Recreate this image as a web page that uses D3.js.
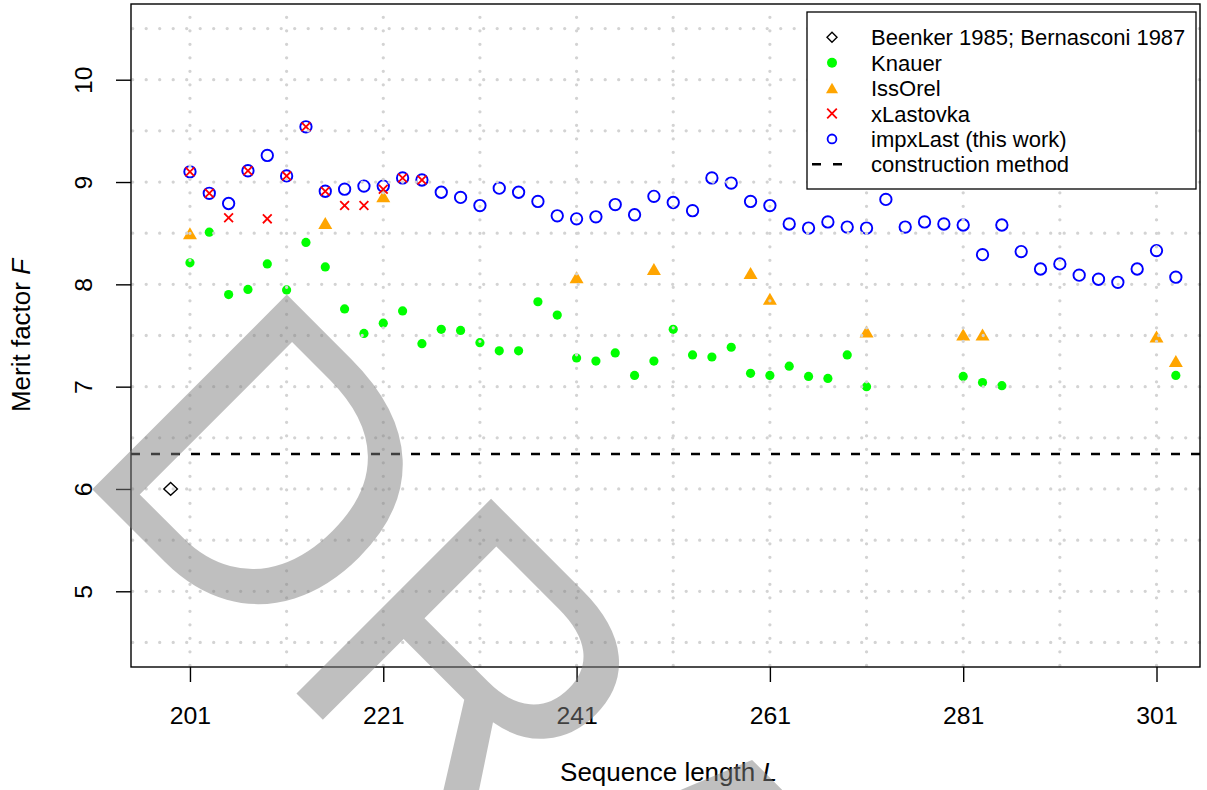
<!DOCTYPE html>
<html>
<head>
<meta charset="utf-8">
<script src="https://cdn.jsdelivr.net/npm/d3@7"></script>
<style>
  html, body { margin: 0; padding: 0; background: #fff; }
  svg { display: block; font-family: 'Liberation Sans', Arial, sans-serif; }
</style>
</head>
<body>
<svg id="chart" width="1207" height="790"></svg>
<script>
// data
const impxLastL = [201, 203, 205, 207, 209, 211, 213, 215, 217, 219, 221, 223, 225, 227, 229, 231, 233, 235, 237, 239,
  241, 243, 245, 247, 249, 251, 253, 255, 257, 259, 261, 263, 265, 267, 269, 271, 273, 275, 277, 279,
  281, 283, 285, 287, 289, 291, 293, 295, 297, 299, 301, 303]
const impxLastF = [9.10, 8.89, 8.79, 9.11, 9.26, 9.06, 9.54, 8.91, 8.93, 8.96, 8.96, 9.04, 9.02, 8.90, 8.85, 8.77, 8.94, 8.90, 8.81, 8.67,
  8.64, 8.66, 8.78, 8.68, 8.86, 8.80, 8.72, 9.04, 8.99, 8.81, 8.77, 8.59, 8.55, 8.61, 8.56, 8.55, 8.83, 8.56, 8.61, 8.59,
  8.58, 8.29, 8.58, 8.32, 8.15, 8.20, 8.09, 8.05, 8.02, 8.15, 8.33, 8.07]

const xLastovkaL = [201, 203, 205, 207, 209, 211, 213, 215, 217, 219, 221, 223, 225]
const xLastovkaF = [9.10, 8.89, 8.65, 9.11, 8.64, 9.06, 9.54, 8.91, 8.77, 8.77, 8.93, 9.04, 9.02]

const issOrelL = [201, 215, 221, 241, 249, 259, 261, 271, 281, 283, 301, 303]
const issOrelF = [8.50, 8.60, 8.86, 8.07, 8.15, 8.11, 7.86, 7.54, 7.51, 7.51, 7.49, 7.25]

const knauerL = [201, 203, 205, 207, 209, 211, 213, 215, 217, 219, 221, 223, 225, 227, 229, 231, 233, 235, 237, 239,
  241, 243, 245, 247, 249, 251, 253, 255, 257, 259, 261, 263, 265, 267, 269, 271, 281, 283, 285, 303]
const knauerF = [8.21, 8.51, 7.90, 7.95, 8.20, 7.945, 8.41, 8.17, 7.76, 7.52, 7.62, 7.74, 7.42, 7.56, 7.55, 7.43, 7.35, 7.35, 7.83, 7.70,
  7.28, 7.25, 7.33, 7.11, 7.25, 7.56, 7.31, 7.29, 7.385, 7.13, 7.11, 7.20, 7.10, 7.08, 7.31, 7.00, 7.10, 7.04, 7.01, 7.11]

const beenkerL = [199]
const beenkerF = [6.00]

const constructionF = 6.342

const xTicks = [201, 221, 241, 261, 281, 301]
const yTicks = [5, 6, 7, 8, 9, 10]
const xGrid = [201, 211, 221, 231, 241, 251, 261, 271, 281, 291, 301]
const yGrid = [4.5, 5, 5.5, 6, 6.5, 7, 7.5, 8, 8.5, 9, 9.5, 10, 10.5]

const legendLabels = ['Beenker 1985; Bernasconi 1987', 'Knauer', 'IssOrel', 'xLastovka', 'impxLast (this work)', 'construction method']
const legendKinds = ['diamond', 'dot', 'triangle', 'cross', 'circle', 'dash']

const zip = (a, b) => a.map((v, i) => [v, b[i]])

const svg = d3.select('#chart')
const pLeft = 131, pRight = 1200, pTop = 4, pBottom = 667

const x = d3.scaleLinear().domain([194.9, 305.5]).range([pLeft, pRight])
const y = d3.scaleLinear().domain([4.26, 10.74]).range([pBottom, pTop])

const plot = svg.append('g')

// impxLast circles
plot.selectAll('circle.impx')
  .data(zip(impxLastL, impxLastF))
  .enter()
  .append('circle')
  .attr('cx', d => x(d[0]))
  .attr('cy', d => y(d[1]))
  .attr('r', 5.7)
  .attr('fill', 'none')
  .attr('stroke', '#0000ff')
  .attr('stroke-width', 1.9)

// xLastovka crosses
const cross = s => `M${-s},${-s}L${s},${s}M${-s},${s}L${s},${-s}`
plot.selectAll('path.xl')
  .data(zip(xLastovkaL, xLastovkaF))
  .enter()
  .append('path')
  .attr('transform', d => `translate(${x(d[0])},${y(d[1])})`)
  .attr('d', cross(4.4))
  .attr('stroke', '#ff0000')
  .attr('stroke-width', 1.8)

// IssOrel triangles
const tri = (w, h) => `M0,${-h / 2}L${w / 2},${h / 2}L${-w / 2},${h / 2}Z`
plot.selectAll('path.iss')
  .data(zip(issOrelL, issOrelF))
  .enter()
  .append('path')
  .attr('transform', d => `translate(${x(d[0])},${y(d[1])})`)
  .attr('d', tri(14, 12))
  .attr('fill', '#ffa500')

// Knauer dots
plot.selectAll('circle.kn')
  .data(zip(knauerL, knauerF))
  .enter()
  .append('circle')
  .attr('cx', d => x(d[0]))
  .attr('cy', d => y(d[1]))
  .attr('r', 4.6)
  .attr('fill', '#00ff00')

// Beenker diamond
const diamond = (w, h) => `M0,${-h}L${w},0L0,${h}L${-w},0Z`
plot.selectAll('path.bk')
  .data(zip(beenkerL, beenkerF))
  .enter()
  .append('path')
  .attr('transform', d => `translate(${x(d[0])},${y(d[1])})`)
  .attr('d', diamond(6.8, 6.4))
  .attr('fill', 'none')
  .attr('stroke', '#000')
  .attr('stroke-width', 1.4)

// grid, drawn over the points like R's grid()
const grid = svg.append('g')
  .attr('stroke', '#d3d3d3')
  .attr('stroke-width', 3.3)
  .attr('stroke-linecap', 'round')
  .attr('stroke-dasharray', '0 13.5')
grid.selectAll('line.h')
  .data(yGrid)
  .enter()
  .append('line')
  .attr('x1', pLeft + 1.7).attr('x2', pRight)
  .attr('y1', d => y(d)).attr('y2', d => y(d))
grid.selectAll('line.v')
  .data(xGrid)
  .enter()
  .append('line')
  .attr('x1', d => x(d)).attr('x2', d => x(d))
  .attr('y1', pBottom - 1.7).attr('y2', pTop)

// construction method line
svg.append('line')
  .attr('x1', pLeft).attr('x2', pRight)
  .attr('y1', y(constructionF)).attr('y2', y(constructionF))
  .attr('stroke', '#000')
  .attr('stroke-width', 2.4)
  .attr('stroke-dasharray', '9 11')

// box
svg.append('rect')
  .attr('x', pLeft).attr('y', pTop)
  .attr('width', pRight - pLeft).attr('height', pBottom - pTop)
  .attr('fill', 'none')
  .attr('stroke', '#000')
  .attr('stroke-width', 1.4)

// axes
const xAxis = svg.append('g')
  .attr('transform', `translate(0,${pBottom})`)
  .call(d3.axisBottom(x).tickValues(xTicks).tickFormat(d3.format('d')).tickSize(15).tickSizeOuter(0).tickPadding(24))
xAxis.select('.domain').remove()
xAxis.selectAll('line').attr('stroke-width', 1.4)
xAxis.selectAll('text').attr('font-size', 24.8).attr('font-family', null).attr('fill', '#000')

const yAxis = svg.append('g')
  .attr('transform', `translate(${pLeft},0)`)
  .call(d3.axisLeft(y).tickValues(yTicks).tickFormat(d3.format('d')).tickSize(15).tickSizeOuter(0))
yAxis.select('.domain').remove()
yAxis.selectAll('line').attr('stroke-width', 1.4)
yAxis.selectAll('text')
  .attr('x', null).attr('dy', null)
  .attr('transform', 'translate(-39,0) rotate(-90)')
  .attr('text-anchor', 'middle')
  .attr('font-size', 24.8).attr('font-family', null).attr('fill', '#000')

// axis titles
const xTitle = svg.append('text')
  .attr('x', (pLeft + pRight) / 2 + 3).attr('y', 781)
  .attr('text-anchor', 'middle')
  .attr('font-size', 26)
xTitle.append('tspan').text('Sequence length ')
xTitle.append('tspan').attr('font-style', 'italic').text('L')

const yTitle = svg.append('text')
  .attr('transform', `translate(29.5,${(pTop + pBottom) / 2}) rotate(-90)`)
  .attr('text-anchor', 'middle')
  .attr('font-size', 26)
yTitle.append('tspan').text('Merit factor ')
yTitle.append('tspan').attr('font-style', 'italic').text('F')

// legend
const legend = svg.append('g')
legend.append('rect')
  .attr('x', 807).attr('y', 12)
  .attr('width', 389).attr('height', 177)
  .attr('fill', '#fff')
  .attr('stroke', '#000')
  .attr('stroke-width', 1.3)

const rowY = i => 37.3 + i * 25.4
const rows = legend.selectAll('g.row')
  .data(legendLabels)
  .enter()
  .append('g')
  .attr('transform', (d, i) => `translate(832,${rowY(i)})`)

rows.append('text')
  .attr('x', 39).attr('y', 8)
  .attr('font-size', 22)
  .text(d => d)

rows.each(function (d, i) {
  const g = d3.select(this)
  const kind = legendKinds[i]
  if (kind === 'diamond') {
    g.append('path').attr('d', diamond(5, 5)).attr('fill', 'none').attr('stroke', '#000').attr('stroke-width', 1.4)
  } else if (kind === 'dot') {
    g.append('circle').attr('r', 5).attr('fill', '#00ff00')
  } else if (kind === 'triangle') {
    g.append('path').attr('d', tri(12, 10.5)).attr('fill', '#ffa500')
  } else if (kind === 'cross') {
    g.append('path').attr('d', cross(4.8)).attr('stroke', '#ff0000').attr('stroke-width', 1.8)
  } else if (kind === 'circle') {
    g.append('circle').attr('r', 4.4).attr('fill', 'none').attr('stroke', '#0000ff').attr('stroke-width', 1.8)
  } else {
    g.append('line').attr('x1', -20).attr('x2', 10)
      .attr('stroke', '#000').attr('stroke-width', 2.4).attr('stroke-dasharray', '9 12')
  }
})

// watermark
svg.append('text')
  .attr('transform', 'translate(69,466) rotate(45)')
  .attr('font-size', 400)
  .attr('fill', '#7f7f7f')
  .attr('fill-opacity', 0.5)
  .text('DRAFT')
</script>
</body>
</html>
